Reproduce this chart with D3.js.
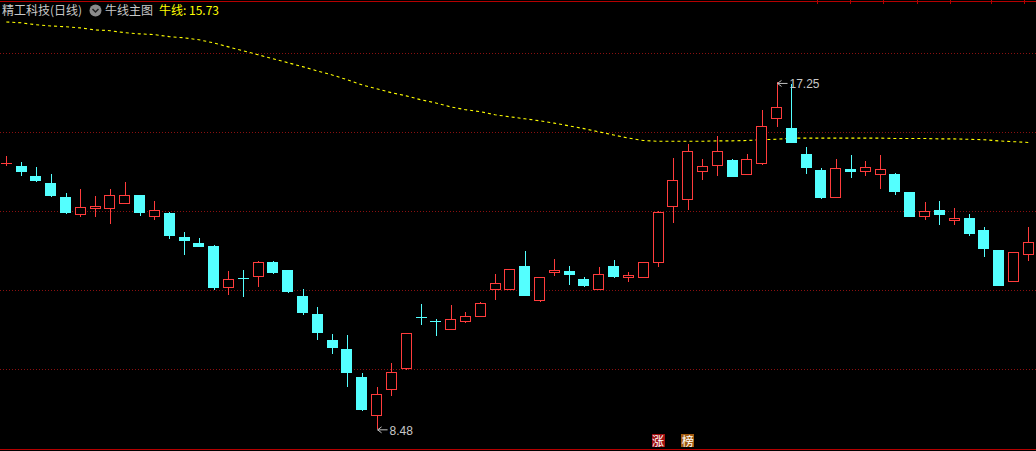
<!DOCTYPE html>
<html>
<head>
<meta charset="utf-8">
<script src="https://cdn.jsdelivr.net/npm/d3@7"></script>
<style>
html,body{margin:0;padding:0;background:#000;overflow:hidden;}
svg{display:block;}
</style>
</head>
<body>
<svg id="chart" width="1036" height="451"></svg>
<script>
const openP = [15.20,15.14,14.89,14.71,14.36,13.93,14.08,14.08,14.21,14.41,
  13.88,13.95,13.34,13.19,13.11,12.07,12.30,12.36,12.70,12.51,
  11.85,11.39,10.73,10.51,9.80,8.82,9.48,10.01,11.31,11.22,
  11.01,11.20,11.33,12.02,12.02,12.61,11.75,12.44,12.48,12.28,
  12.03,12.61,12.32,12.32,12.70,14.13,14.31,15.02,15.15,15.28,
  14.94,15.20,16.36,16.10,15.44,15.04,14.36,15.07,15.02,14.94,
  14.94,14.48,13.86,14.03,13.76,13.82,13.52,13.01,12.22,12.90];
const closeP = [15.21,15.01,14.79,14.41,13.96,14.10,14.13,14.41,14.41,13.96,
  14.03,13.39,13.27,13.11,12.06,12.27,12.29,12.70,12.46,11.98,
  11.43,10.94,10.56,9.91,8.97,9.37,9.92,10.90,11.30,11.21,
  11.27,11.34,11.67,12.17,12.52,11.87,12.32,12.50,12.39,12.13,
  12.40,12.34,12.37,12.70,13.97,14.78,15.51,15.13,15.51,14.89,
  15.31,16.14,16.63,15.73,15.10,14.36,15.08,15.02,15.11,15.06,
  14.51,13.87,14.00,13.93,13.82,13.45,13.05,12.11,12.95,13.21];
const highP = [15.39,15.24,15.11,14.94,14.46,14.56,14.38,14.56,14.72,14.41,
  14.25,13.97,13.47,13.32,13.14,12.48,12.51,12.73,12.73,12.51,
  12.03,11.57,10.89,10.86,9.89,9.55,10.15,10.91,11.65,11.27,
  11.62,11.44,11.70,12.41,12.52,12.99,12.32,12.79,12.61,12.33,
  12.58,12.76,12.46,12.70,14.00,15.34,15.70,15.32,15.90,15.31,
  15.44,16.56,17.25,17.22,15.62,15.08,15.32,15.42,15.27,15.42,
  14.96,14.48,14.23,14.25,14.08,13.92,13.59,13.01,12.95,13.59];
const lowP = [15.14,14.87,14.72,14.34,13.92,13.85,13.85,13.67,14.21,13.87,
  13.77,13.29,12.89,13.09,12.00,11.86,11.83,12.08,12.41,11.93,
  11.37,10.73,10.38,9.53,8.92,8.48,9.32,9.96,11.12,10.84,
  10.97,11.17,11.33,11.75,12.00,11.86,11.70,12.36,12.13,12.08,
  12.03,12.31,12.19,12.32,12.57,13.68,14.03,14.79,14.89,14.89,
  14.94,15.17,16.13,15.73,14.92,14.31,14.36,14.84,14.89,14.54,
  14.41,13.85,13.77,13.63,13.63,13.37,12.82,12.11,12.22,12.74];
const maLine = [18.78,18.76,18.71,18.68,18.66,18.63,18.58,18.56,18.51,18.48,
  18.46,18.41,18.38,18.33,18.25,18.15,18.05,17.95,17.85,17.75,
  17.65,17.54,17.44,17.32,17.19,17.09,16.99,16.91,16.81,16.73,
  16.63,16.56,16.51,16.43,16.38,16.33,16.28,16.22,16.15,16.08,
  16.00,15.92,15.84,15.78,15.76,15.76,15.76,15.76,15.77,15.77,
  15.78,15.80,15.81,15.84,15.84,15.84,15.84,15.84,15.84,15.84,
  15.83,15.83,15.83,15.82,15.82,15.81,15.80,15.77,15.75,15.73];
const gridTicks = [10, 12, 14, 16, 18];
const markerIdx = [44, 46];
const markerText = ["涨", "榜"];
const titleText = "精工科技(日线)";
const mainText = "牛线主图";
const maName = "牛线";

const W = 1036, H = 451;
const RED = "#ff3c3c", CYAN = "#54ffff";
const svg = d3.select("#chart");
svg.append("rect").attr("width", W).attr("height", H).attr("fill", "#000");

const idx = d3.range(openP.length);
const x = d3.scaleLinear().domain([0, openP.length - 1]).range([6.3, 1028.3]);
const y = d3.scaleLinear().domain([8, 18]).range([447.8, 52.8]);
const bw = 11;

// grid
svg.append("g").selectAll("line").data(gridTicks).join("line")
  .attr("x1", 0).attr("x2", W)
  .attr("y1", d => Math.round(y(d)) + 0.5).attr("y2", d => Math.round(y(d)) + 0.5)
  .attr("stroke", "#8a1010").attr("stroke-width", 1)
  .attr("stroke-dasharray", "1 2");

// top and bottom border
svg.append("line").attr("x1", 0).attr("x2", W).attr("y1", 1.5).attr("y2", 1.5)
  .attr("stroke", "#b40000").attr("stroke-width", 1);
svg.append("g").selectAll("line").data([817, 850, 883, 917, 950, 991, 1024]).join("line")
  .attr("x1", d => d + 0.5).attr("x2", d => d + 0.5).attr("y1", 0).attr("y2", 4)
  .attr("stroke", "#b40000");
svg.append("line").attr("x1", 0).attr("x2", W).attr("y1", 449.5).attr("y2", 449.5)
  .attr("stroke", "#b40000").attr("stroke-width", 1);

// MA line
const maGen = d3.line().x(i => x(i)).y(i => y(maLine[i]));
svg.append("path").attr("d", maGen(idx))
  .attr("fill", "none").attr("stroke", "#ffff00").attr("stroke-width", 1.1)
  .attr("stroke-dasharray", "3 3");

// candles
const g = svg.append("g").attr("shape-rendering", "crispEdges");
idx.forEach(i => {
  const o = openP[i], c = closeP[i], h = highP[i], l = lowP[i];
  const up = c >= o;
  const col = up ? RED : CYAN;
  const cx = Math.round(x(i)) + 0.5;
  const yTop = y(Math.max(o, c)), yBot = y(Math.min(o, c));
  const left = Math.round(x(i) - bw / 2);
  if (Math.abs(yBot - yTop) < 1.5) {
    g.append("line").attr("x1", cx).attr("x2", cx).attr("y1", y(h)).attr("y2", y(l)).attr("stroke", col);
    g.append("line").attr("x1", left).attr("x2", left + bw)
      .attr("y1", Math.round(yTop) + 0.5).attr("y2", Math.round(yTop) + 0.5).attr("stroke", col)
      .attr("stroke-width", Math.max(1, yBot - yTop + 1));
    return;
  }
  if (up) {
    g.append("line").attr("x1", cx).attr("x2", cx).attr("y1", y(h)).attr("y2", yTop).attr("stroke", col);
    g.append("line").attr("x1", cx).attr("x2", cx).attr("y1", yBot).attr("y2", y(l)).attr("stroke", col);
    g.append("rect").attr("x", left + 0.5).attr("y", Math.round(yTop) + 0.5)
      .attr("width", bw - 1).attr("height", Math.max(1, Math.round(yBot) - Math.round(yTop)))
      .attr("fill", "#000").attr("stroke", col).attr("stroke-width", 1);
  } else {
    g.append("line").attr("x1", cx).attr("x2", cx).attr("y1", y(h)).attr("y2", y(l)).attr("stroke", col);
    g.append("rect").attr("x", left).attr("y", Math.round(yTop))
      .attr("width", bw).attr("height", Math.max(1, Math.round(yBot) - Math.round(yTop) + 1))
      .attr("fill", col);
  }
});

// high / low annotations
const hiI = d3.maxIndex(highP), loI = d3.minIndex(lowP);
function annot(i, val) {
  const px = x(i), py = y(val);
  const ag = svg.append("g");
  ag.append("line").attr("x1", px + 1).attr("x2", px + 11).attr("y1", py + 1).attr("y2", py + 1)
    .attr("stroke", "#c0c0c0");
  ag.append("path").attr("d", `M${px + 1},${py + 1} l4,-3 M${px + 1},${py + 1} l4,3`)
    .attr("stroke", "#c0c0c0").attr("fill", "none");
  ag.append("text").attr("x", px + 13).attr("y", py + 6)
    .attr("fill", "#c8c8c8").attr("font-family", "'Liberation Sans', Arial, sans-serif").attr("font-size", 12)
    .text(val.toFixed(2));
}
annot(hiI, highP[hiI]);
annot(loI, lowP[loI]);

// bottom markers
const mcol = ["#a01010", "#a05a10"];
markerIdx.forEach((mi, k) => {
  const mx = x(mi);
  svg.append("rect").attr("x", Math.round(mx - 6.5)).attr("y", 434).attr("width", 13).attr("height", 13)
    .attr("fill", mcol[k]);
  svg.append("text").attr("x", mx).attr("y", 445.5).attr("text-anchor", "middle")
    .attr("fill", "#ffffff").attr("font-family", "'Noto Sans CJK SC', sans-serif").attr("font-size", 12)
    .text(markerText[k]);
});

// header
const hdr = svg.append("g").attr("font-family", "'Noto Sans CJK SC', sans-serif").attr("font-size", 12);
hdr.append("text").attr("x", 2).attr("y", 15).attr("fill", "#c8c8c8").text(titleText);
hdr.append("circle").attr("cx", 95.5).attr("cy", 10.5).attr("r", 6).attr("fill", "#8a8a8a");
hdr.append("path").attr("d", "M92.5,9 L95.5,12 L98.5,9").attr("stroke", "#202020").attr("stroke-width", 1.5).attr("fill", "none");
hdr.append("text").attr("x", 105).attr("y", 15).attr("fill", "#c8c8c8").text(mainText);
hdr.append("text").attr("x", 159).attr("y", 15).attr("fill", "#ffff00")
  .text(maName + ": " + maLine[maLine.length - 1].toFixed(2));
</script>
</body>
</html>
